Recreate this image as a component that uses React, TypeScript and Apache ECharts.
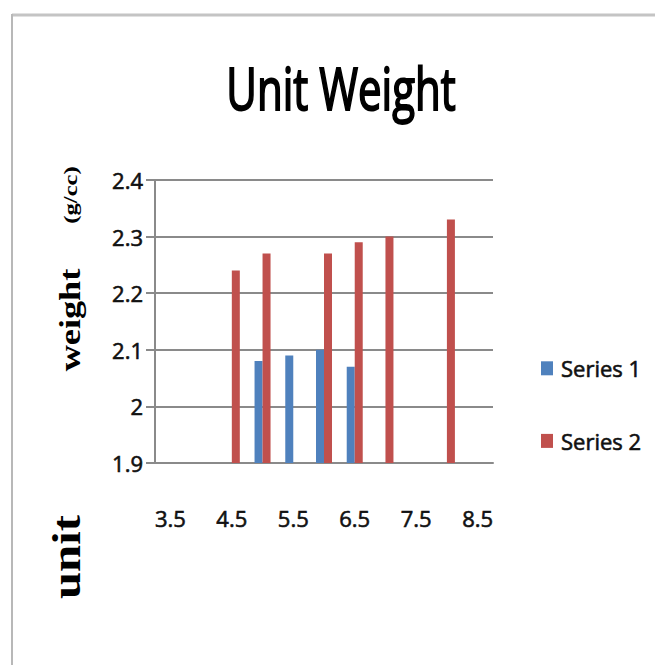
import React, { useEffect, useRef } from "react";
import * as echarts from "echarts";

const categories = ["3.5", "4", "4.5", "5", "5.5", "6", "6.5", "7", "7.5", "8", "8.5"];
const series1 = [null, null, null, 2.08, 2.09, 2.1, 2.07, null, null, null, null];
const series2 = [null, null, 2.24, 2.27, null, 2.27, 2.29, 2.3, null, 2.33, null];
const seriesNames = ["Series 1", "Series 2"];
const titleText = "Unit Weight";
const yNameParts = ["unit", "weight", "(g/cc)"];

export default function App() {
  const ref = useRef<HTMLDivElement>(null);
  useEffect(() => {
    if (!ref.current) return;
    const chart = echarts.init(ref.current, null, { renderer: "svg" });
    const font = "'Open Sans', 'Liberation Sans', sans-serif";
    const labelText = {
      fontFamily: font,
      fontSize: 22,
      color: "#111111",
      textBorderColor: "#111111",
      textBorderWidth: 0.6,
    };
    chart.setOption({
      animation: false,
      backgroundColor: "#ffffff",
      grid: { left: 155, right: 162, top: 180, bottom: 202, containLabel: false },
      legend: {
        orient: "vertical",
        left: 536,
        top: 352,
        itemWidth: 12,
        itemHeight: 14,
        itemGap: 50,
        icon: "rect",
        textStyle: { ...labelText, padding: [0, 0, 0, 3] },
        data: seriesNames,
      },
      xAxis: {
        type: "category",
        data: categories,
        axisLine: { show: true, lineStyle: { color: "#8a8a8a", width: 2 } },
        axisTick: { show: false },
        axisLabel: { interval: 1, margin: 44, ...labelText },
      },
      yAxis: {
        type: "value",
        min: 1.9,
        max: 2.4,
        interval: 0.1,
        axisLine: { show: true, lineStyle: { color: "#8a8a8a", width: 2 } },
        axisTick: { show: true, length: 9, lineStyle: { color: "#8a8a8a", width: 2 } },
        splitLine: { show: true, lineStyle: { color: "#8a8a8a", width: 2 } },
        axisLabel: { margin: 12, ...labelText },
      },
      series: [
        {
          name: seriesNames[0],
          type: "bar",
          data: series1,
          barWidth: 8,
          barGap: "0%",
          itemStyle: { color: "#4F81BD" },
        },
        {
          name: seriesNames[1],
          type: "bar",
          data: series2,
          barWidth: 8,
          barGap: "0%",
          itemStyle: { color: "#C0504D" },
        },
      ],
      graphic: [
        {
          type: "line",
          shape: { x1: 12, y1: 15, x2: 655, y2: 15 },
          style: { stroke: "#c4c4c4", lineWidth: 3 },
          silent: true,
        },
        {
          type: "line",
          shape: { x1: 12, y1: 14, x2: 12, y2: 665 },
          style: { stroke: "#b8b8b8", lineWidth: 2 },
          silent: true,
        },
        {
          type: "text",
          x: 341,
          y: 88,
          scaleY: 1.38,
          style: {
            text: titleText,
            fontFamily: font,
            fontSize: 42,
            fill: "#000000",
            stroke: "#000000",
            lineWidth: 1.4,
            textAlign: "center",
            textVerticalAlign: "middle",
          },
        },
        {
          type: "text",
          x: 67,
          y: 557,
          rotation: Math.PI / 2,
          scaleX: 1.25,
          style: {
            text: yNameParts[0],
            fontFamily: "'Liberation Serif', 'DejaVu Serif', serif",
            fontWeight: "bold",
            fontSize: 39,
            fill: "#000000",
            textAlign: "center",
            textVerticalAlign: "middle",
          },
        },
        {
          type: "text",
          x: 70,
          y: 320,
          rotation: Math.PI / 2,
          scaleX: 1.25,
          style: {
            text: yNameParts[1],
            fontFamily: "'Liberation Serif', 'DejaVu Serif', serif",
            fontWeight: "bold",
            fontSize: 29,
            fill: "#000000",
            textAlign: "center",
            textVerticalAlign: "middle",
          },
        },
        {
          type: "text",
          x: 71,
          y: 195,
          rotation: Math.PI / 2,
          scaleX: 1.3,
          style: {
            text: yNameParts[2],
            fontFamily: "'Liberation Serif', 'DejaVu Serif', serif",
            fontWeight: "bold",
            fontSize: 19,
            fill: "#000000",
            textAlign: "center",
            textVerticalAlign: "middle",
          },
        },
      ],
    });
    return () => chart.dispose();
  }, []);
  return (
    <div
      ref={ref}
      style={{ position: "fixed", left: 0, top: 0, width: 655, height: 665 }}
    />
  );
}
